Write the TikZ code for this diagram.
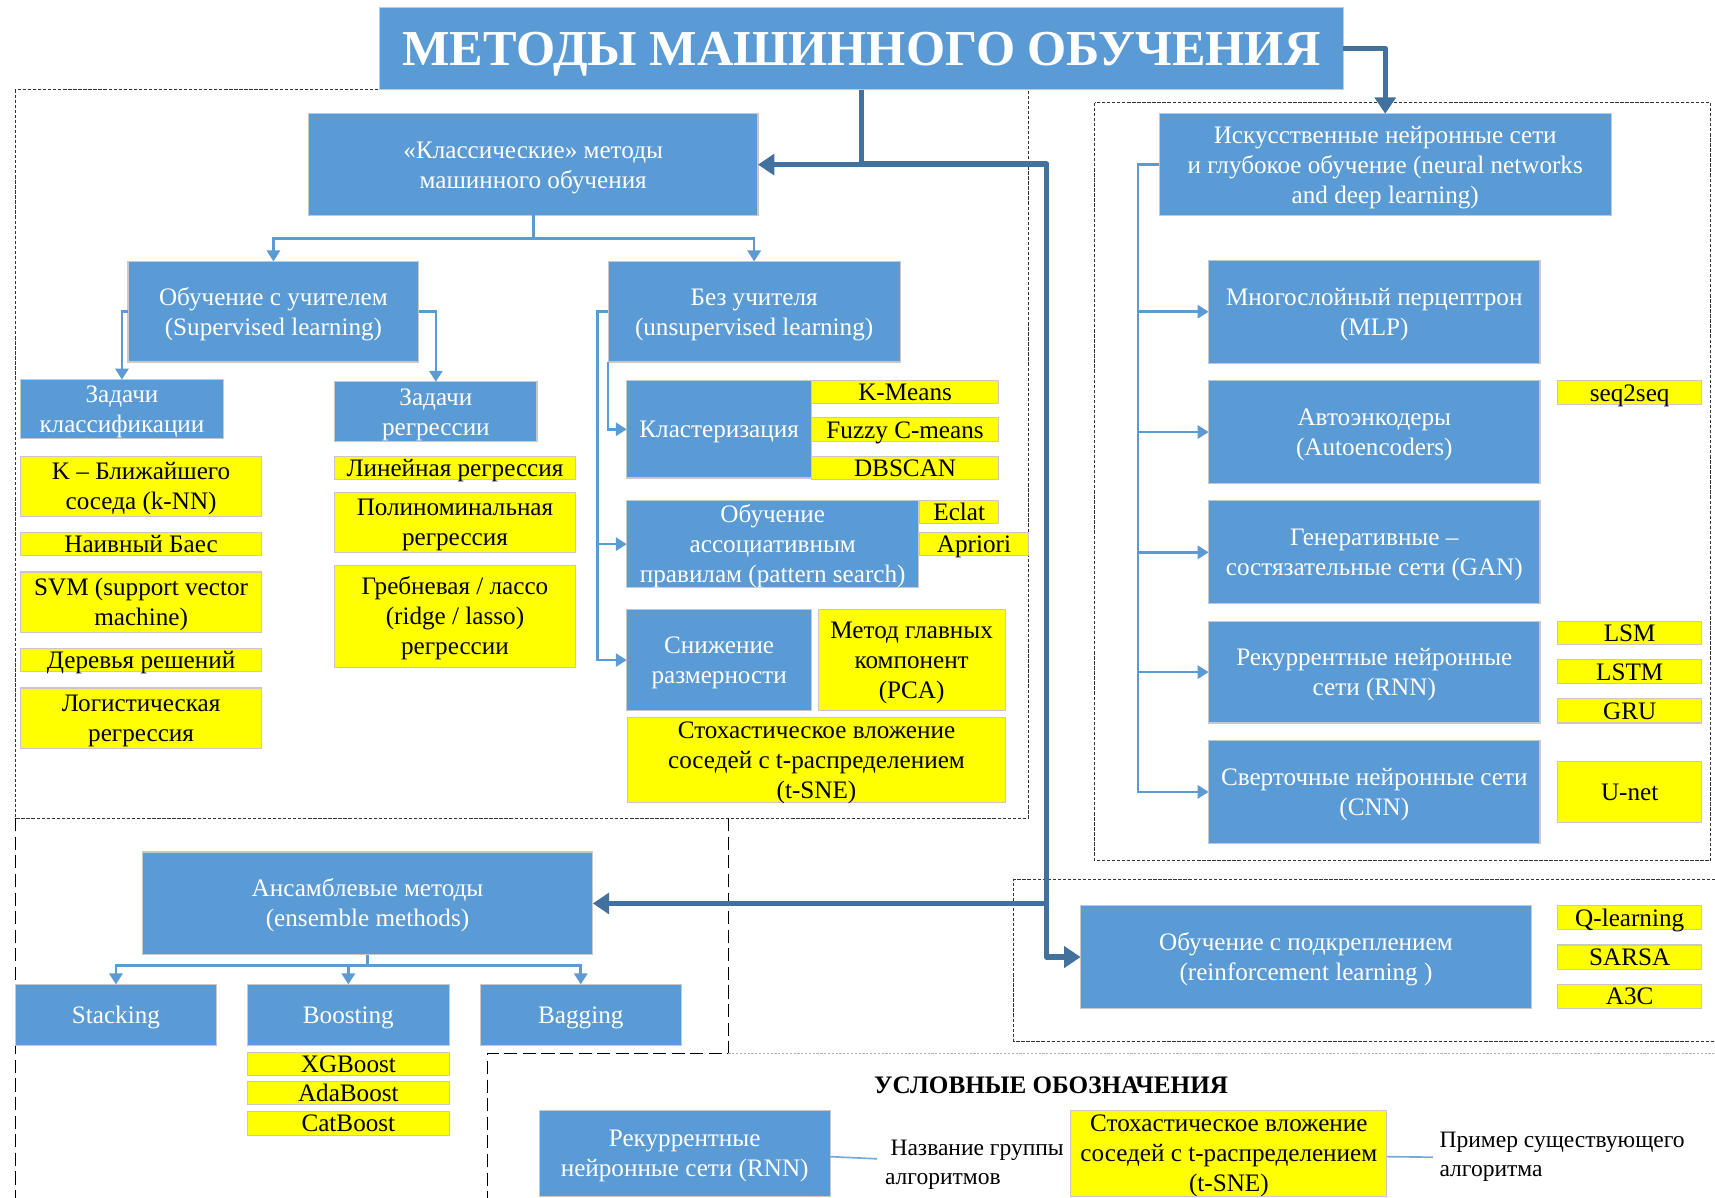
\documentclass[tikz,border=0pt]{standalone}
\usepackage{fontspec}
\setmainfont{Liberation Serif}
\usetikzlibrary{arrows.meta}
\definecolor{nblue}{HTML}{5B9BD5}
\definecolor{dblue}{HTML}{41719C}
\definecolor{yel}{HTML}{FFFF00}
\definecolor{edge}{HTML}{C8C8C8}
\newcommand\ws{\rule[-0.216em]{0pt}{1.107em}}
\newcommand\bx[7]{\node[#1, minimum width={#5-#3}, minimum height={#6-#4}, label={[#1txt]center:{\ws #7\ws}}] (#2) at ({(#3+#5)/2},{(#4+#6)/2}) {};}
\tikzset{
  boxbase/.style={rectangle, inner sep=0pt, outer sep=0pt, line width=1pt, draw=edge},
  bbox/.style={boxbase, fill=nblue},
  ybox/.style={boxbase, fill=yel},
  titlebox/.style={bbox},
  txtbase/.style={inner sep=0pt, align=center, font=\fontsize{23}{27.5}\selectfont},
  bboxtxt/.style={txtbase, text=white},
  yboxtxt/.style={txtbase, text=black},
  titleboxtxt/.style={txtbase, text=white, font=\bfseries\fontsize{46}{52}\selectfont},
  lbltxt/.style={inner sep=0pt, align=left, font=\fontsize{21.5}{26.2}\selectfont},
  thinc/.style={draw=nblue, line width=2.4pt, -{Triangle[width=12pt,length=10pt]}},
  thickc/.style={draw=dblue, line width=5pt, line join=round, -{Triangle[width=19pt,length=15pt]}},
  fine/.style={draw=black!80, line width=1pt, dash pattern=on 3pt off 1.6pt},
  longd/.style={draw=black, line width=1.2pt, dash pattern=on 12pt off 5pt},
  lgray/.style={draw=black!30, line width=1pt, dash pattern=on 2pt off 1.5pt},
  legline/.style={draw=nblue!85, line width=1.5pt}
}
\begin{document}
\begin{tikzpicture}[x=1pt,y=-1pt]
\fill[white] (0,0) rectangle (1568,1095);
\useasboundingbox (0,0) rectangle (1568,1095);

% regions
\draw[fine] (14,82) rectangle (940,748);
\draw[fine] (1001,94) rectangle (1564,787);
\draw[fine] (1568,804) -- (927,804) -- (927,952) -- (1568,952);
\draw[longd] (14,748) -- (14,1095);
\draw[longd] (666,748) -- (666,963) -- (446,963) -- (446,1095);
\draw[lgray] (666,963) -- (1568,963);

% title
\bx{titlebox}{title}{347}{7}{1228}{82}{МЕТОДЫ МАШИННОГО ОБУЧЕНИЯ}

% classical
\bx{bbox}{cls}{282}{104}{693}{197}{«Классические» методы\\машинного обучения}
\bx{bbox}{sup}{117}{239}{383}{331}{Обучение с учителем\\(Supervised learning)}
\bx{bbox}{unsup}{556}{239}{823}{331}{Без учителя\\(unsupervised learning)}
\bx{bbox}{clsf}{19}{347}{204}{401}{Задачи\\классификации}
\bx{bbox}{regr}{306}{349}{491}{404}{Задачи\\регрессии}
\bx{ybox}{knn}{19}{417}{239}{472}{K – Ближайшего\\соседа (k-NN)}
\bx{ybox}{bayes}{19}{487}{239}{508}{Наивный Баес}
\bx{ybox}{svm}{19}{523}{239}{578}{SVM (support vector\\machine)}
\bx{ybox}{tree}{19}{593}{239}{614}{Деревья решений}
\bx{ybox}{logit}{19}{629}{239}{684}{Логистическая\\регрессия}
\bx{ybox}{lin}{306}{417}{526}{438}{Линейная регрессия}
\bx{ybox}{poly}{306}{450}{526}{505}{Полиноминальная\\регрессия}
\bx{ybox}{ridge}{306}{517}{526}{610}{Гребневая / лассо\\(ridge / lasso)\\регрессии}
\bx{bbox}{clust}{573}{348}{742}{437}{Кластеризация}
\bx{ybox}{kmeans}{742}{348}{913}{369}{K-Means}
\bx{ybox}{fuzzy}{742}{382}{913}{404}{Fuzzy C-means}
\bx{ybox}{dbscan}{742}{417}{913}{438}{DBSCAN}
\bx{bbox}{assoc}{573}{458}{840}{537}{Обучение\\ассоциативным\\правилам (pattern search)}
\bx{ybox}{eclat}{841}{458}{913}{479}{Eclat}
\bx{ybox}{apriori}{841}{487}{940}{508}{Apriori}
\bx{bbox}{reduc}{573}{557}{742}{650}{Снижение\\размерности}
\bx{ybox}{pca}{748}{557}{919}{650}{Метод главных\\компонент\\(PCA)}
\bx{ybox}{tsne}{574}{656}{919}{734}{Стохастическое вложение\\соседей с t-распределением\\(t-SNE)}

% neural
\bx{bbox}{nn}{1060}{104}{1473}{197}{Искусственные нейронные сети\\и глубокое обучение (neural networks\\and deep learning)}
\bx{bbox}{mlp}{1105}{238}{1408}{332}{Многослойный перцептрон\\(MLP)}
\bx{bbox}{auto}{1105}{348}{1408}{442}{Автоэнкодеры\\(Autoencoders)}
\bx{bbox}{gan}{1105}{458}{1408}{552}{Генеративные –\\состязательные сети (GAN)}
\bx{bbox}{rnn}{1105}{568}{1408}{661}{Рекуррентные нейронные\\сети (RNN)}
\bx{bbox}{cnn}{1105}{677}{1408}{771}{Сверточные нейронные сети\\(CNN)}
\bx{ybox}{seq}{1424}{348}{1556}{370}{seq2seq}
\bx{ybox}{lsm}{1424}{568}{1556}{589}{LSM}
\bx{ybox}{lstm}{1424}{603}{1556}{625}{LSTM}
\bx{ybox}{gru}{1424}{639}{1556}{661}{GRU}
\bx{ybox}{unet}{1424}{696}{1556}{752}{U-net}

% ensemble
\bx{bbox}{ens}{130}{779}{542}{873}{Ансамблевые методы\\(ensemble methods)}
\bx{bbox}{stack}{14}{900}{198}{956}{Stacking}
\bx{bbox}{boost}{226}{900}{411}{956}{Boosting}
\bx{bbox}{bag}{439}{900}{623}{956}{Bagging}
\bx{ybox}{xgb}{226}{962}{411}{983}{XGBoost}
\bx{ybox}{ada}{226}{989}{411}{1010}{AdaBoost}
\bx{ybox}{cat}{226}{1016}{411}{1038}{CatBoost}

% reinforcement
\bx{bbox}{rl}{988}{828}{1400}{922}{Обучение с подкреплением\\(reinforcement learning )}
\bx{ybox}{ql}{1424}{828}{1556}{850}{Q-learning}
\bx{ybox}{sarsa}{1424}{864}{1556}{886}{SARSA}
\bx{ybox}{a3c}{1424}{900}{1556}{922}{A3C}

% legend
\node[inner sep=0pt, font=\bfseries\fontsize{23}{27}\selectfont] (legt) at (961,992) {\ws УСЛОВНЫЕ ОБОЗНАЧЕНИЯ\ws};
\bx{bbox}{legb}{493}{1015}{759}{1094}{Рекуррентные\\нейронные сети (RNN)}
\bx{ybox}{legy}{979}{1015}{1268}{1094}{Стохастическое вложение\\соседей с t-распределением\\(t-SNE)}
\node[lbltxt, anchor=west] (lbl1) at (809,1062.5) {\ws\hspace*{5pt}Название группы\\алгоритмов\ws};
\node[lbltxt, anchor=west] (lbl2) at (1316,1055) {\ws Пример существующего\\алгоритма\ws};
\draw[legline] ([yshift=-3pt]legb.east) -- ([xshift=-7pt,yshift=3pt]lbl1.west);
\draw[legline] ([yshift=-3pt]legy.east) -- ([xshift=-6pt,yshift=-3pt]lbl2.west);

% thin connectors
\draw[thinc] (cls.south) -- ++(0,21) -| (sup.north);
\draw[thinc] (cls.south) -- ++(0,21) -| (unsup.north);
\draw[thinc] (sup.west) -| (clsf.north);
\draw[thinc] (sup.east) -| (regr.north);
\draw[thinc] (unsup.south west) |- (clust.west);
\coordinate (ubus) at (546,285);
\draw[thinc] (unsup.west) -- (ubus) |- (assoc.west);
\draw[thinc] (unsup.west) -- (ubus) |- (reduc.west);
\coordinate (nbus) at (1040.5,150.5);
\draw[thinc] (nn.west) -- (nbus) |- (mlp.west);
\draw[thinc] (nn.west) -- (nbus) |- (auto.west);
\draw[thinc] (nn.west) -- (nbus) |- (gan.west);
\draw[thinc] (nn.west) -- (nbus) |- (rnn.west);
\draw[thinc] (nn.west) -- (nbus) |- (cnn.west);
\draw[thinc] (ens.south) -- ++(0,10) -| (stack.north);
\draw[thinc] (ens.south) -- ++(0,10) -| (boost.north);
\draw[thinc] (ens.south) -- ++(0,10) -| (bag.north);

% thick connectors
\coordinate (trunk) at (957,150);
\draw[thickc] (title.south) |- (cls.east);
\draw[thickc] (title.south) |- (trunk) |- (rl.west);
\draw[thickc] (trunk |- ens.east) -- (ens.east);
\draw[thickc] (title.east) -| (nn.north);
\end{tikzpicture}
\end{document}
